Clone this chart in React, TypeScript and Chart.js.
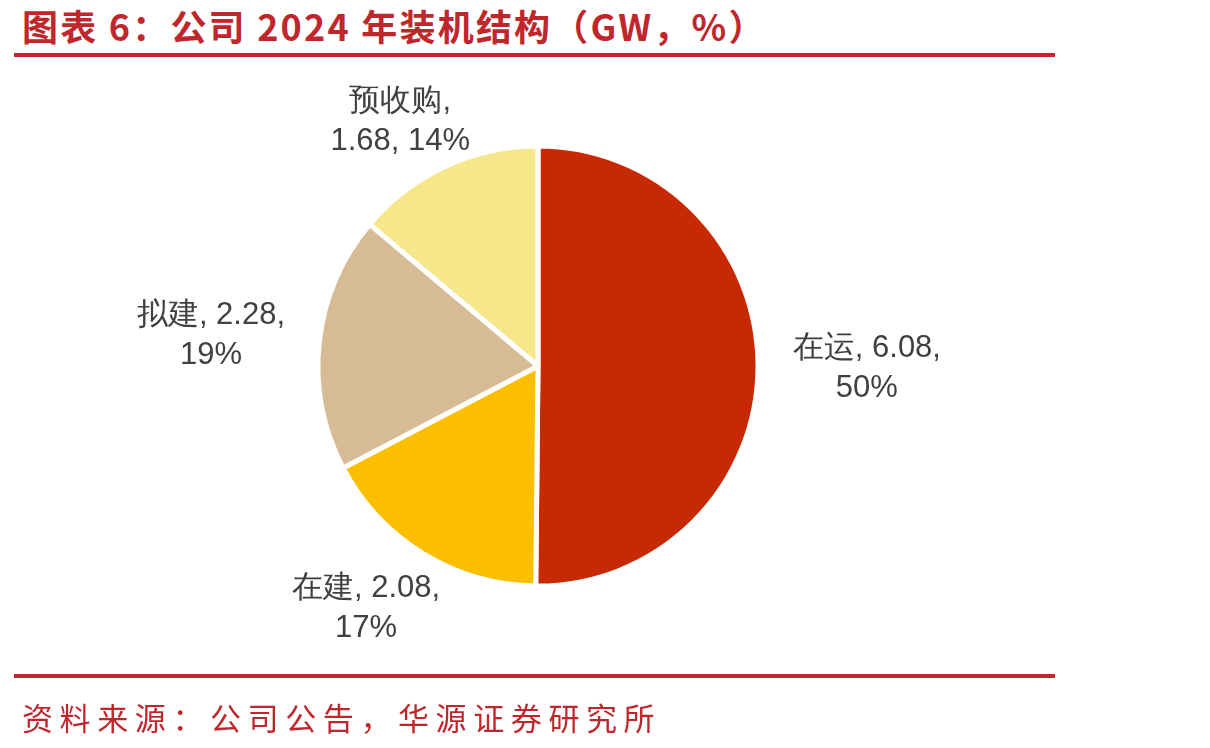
import React, { useEffect, useRef } from "react";
import { Chart, registerables } from "chart.js";

Chart.register(...registerables);

// Installed capacity by project status (GW)
const categories = ["在运", "在建", "拟建", "预收购"];
const capacityGW = [6.08, 2.08, 2.28, 1.68];
const sharePct = ["50%", "17%", "19%", "14%"];
const sliceColors = ["#C72905", "#FCBF00", "#D7BB95", "#F6E78B"];

// label placement: distance from centre (× radius) and angular nudge (deg)
const labelDistance = [1.495, 1.35, 1.493, 1.274];
const labelNudgeDeg = [0.2, 3.9, -0.9, -4.5];

const RED = "#C0272D";

const sliceLabels = {
  id: "sliceLabels",
  afterDatasetsDraw(chart: any) {
    const ctx = chart.ctx;
    const meta = chart.getDatasetMeta(0);
    ctx.save();
    ctx.fillStyle = "#404040";
    ctx.font = '31px "Liberation Sans", Arial, sans-serif';
    ctx.textAlign = "center";
    ctx.textBaseline = "middle";
    meta.data.forEach((arc: any, i: number) => {
      const { x, y, startAngle, endAngle, outerRadius } = arc.getProps(
        ["x", "y", "startAngle", "endAngle", "outerRadius"],
        true
      );
      const mid = (startAngle + endAngle) / 2 + (labelNudgeDeg[i] * Math.PI) / 180;
      const d = outerRadius * labelDistance[i];
      const cx = x + Math.cos(mid) * d;
      const cy = y + Math.sin(mid) * d;
      const value = capacityGW[i].toFixed(2);
      if (i === 3) {
        ctx.fillText(`${categories[i]},`, cx, cy - 20);
        ctx.fillText(`${value}, ${sharePct[i]}`, cx, cy + 20);
      } else {
        ctx.fillText(`${categories[i]}, ${value},`, cx, cy - 20);
        ctx.fillText(sharePct[i], cx, cy + 20);
      }
    });
    ctx.restore();
  },
};

export default function App() {
  const canvasRef = useRef<HTMLCanvasElement>(null);

  useEffect(() => {
    document.body.style.margin = "0";
    const chart = new Chart(canvasRef.current!, {
      type: "pie",
      data: {
        labels: categories,
        datasets: [
          {
            data: capacityGW,
            backgroundColor: sliceColors,
            borderColor: "#ffffff",
            borderWidth: 5,
          },
        ],
      },
      options: {
        animation: false,
        responsive: false,
        radius: 220,
        layout: { padding: { left: 300, right: 434, top: 130, bottom: 146 } },
        plugins: {
          legend: { display: false },
          tooltip: { enabled: false },
        },
      },
      plugins: [sliceLabels],
    });
    return () => chart.destroy();
  }, []);

  return (
    <div
      style={{
        position: "relative",
        width: 1210,
        height: 748,
        background: "#ffffff",
        overflow: "hidden",
      }}
    >
      <div
        style={{
          position: "absolute",
          left: 22,
          top: 1,
          fontFamily: '"Noto Sans CJK SC", sans-serif',
          fontWeight: 700,
          fontSize: 36,
          letterSpacing: 2.2,
          color: RED,
          whiteSpace: "nowrap",
          lineHeight: "48px",
        }}
      >
        图表 6：公司 2024 年装机结构（GW，%）
      </div>
      <div
        style={{
          position: "absolute",
          left: 14,
          top: 53,
          width: 1041,
          height: 4,
          background: RED,
        }}
      />
      <canvas
        ref={canvasRef}
        width={1210}
        height={748}
        style={{ position: "absolute", left: 0, top: 0 }}
      />
      <div
        style={{
          position: "absolute",
          left: 14,
          top: 674,
          width: 1041,
          height: 4,
          background: RED,
        }}
      />
      <div
        style={{
          position: "absolute",
          left: 22,
          top: 695,
          fontFamily: '"Noto Sans CJK SC", sans-serif',
          fontSize: 31,
          letterSpacing: 6.6,
          color: RED,
          whiteSpace: "nowrap",
          lineHeight: "44px",
        }}
      >
        资料来源：公司公告，华源证券研究所
      </div>
    </div>
  );
}
